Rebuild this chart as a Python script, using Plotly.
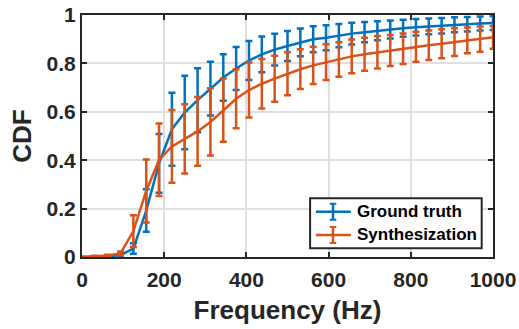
import plotly.graph_objects as go

# ---- data ----
freq = [k * 31.25 for k in range(33)]

gt_mean = [0.0, 0.0, 0.002, 0.008, 0.035, 0.192, 0.387, 0.528, 0.597, 0.648,
           0.696, 0.742, 0.779, 0.812, 0.837, 0.857, 0.872, 0.887, 0.9, 0.906,
           0.915, 0.923, 0.929, 0.935, 0.94, 0.945, 0.949, 0.953, 0.956, 0.96,
           0.962, 0.965, 0.967]
gt_err = [0.0, 0.0, 0.002, 0.006, 0.022, 0.088, 0.121, 0.151, 0.152, 0.132,
          0.111, 0.096, 0.089, 0.081, 0.074, 0.066, 0.062, 0.057, 0.054, 0.052,
          0.048, 0.045, 0.042, 0.039, 0.037, 0.035, 0.034, 0.033, 0.032, 0.031,
          0.030, 0.029, 0.029]

syn_mean = [0.0, 0.003, 0.006, 0.015, 0.107, 0.273, 0.402, 0.457, 0.488, 0.519,
            0.558, 0.607, 0.654, 0.69, 0.716, 0.737, 0.757, 0.776, 0.792, 0.805,
            0.816, 0.829, 0.838, 0.846, 0.853, 0.861, 0.869, 0.875, 0.881, 0.888,
            0.895, 0.9, 0.908]
syn_err = [0.0, 0.002, 0.003, 0.008, 0.066, 0.13, 0.15, 0.15, 0.143, 0.142,
           0.139, 0.131, 0.122, 0.114, 0.102, 0.095, 0.089, 0.082, 0.077, 0.074,
           0.071, 0.07, 0.068, 0.067, 0.064, 0.063, 0.062, 0.061, 0.06, 0.057,
           0.053, 0.052, 0.047]

series_names = ["Ground truth", "Synthesization"]
colors = ["#0072BD", "#D95319"]

x_ticks = [0, 200, 400, 600, 800, 1000]
y_ticks = [0, 0.2, 0.4, 0.6, 0.8, 1]
y_tick_labels = ["0", "0.2", "0.4", "0.6", "0.8", "1"]

FONT = "Liberation Sans, Arial, sans-serif"
AX = "#262626"

fig = go.Figure()
for name, ys, es, c in [(series_names[0], gt_mean, gt_err, colors[0]),
                        (series_names[1], syn_mean, syn_err, colors[1])]:
    fig.add_trace(go.Scatter(
        x=freq, y=ys, mode="lines", name=name, showlegend=False,
        line=dict(color=c, width=2.5),
        error_y=dict(type="data", array=es, visible=True, color=c,
                     thickness=2.5, width=3.5),
        cliponaxis=False,
    ))

axis_common = dict(
    showline=True, linecolor=AX, linewidth=2, mirror="ticks",
    ticks="inside", ticklen=5, tickwidth=2, tickcolor=AX,
    showgrid=True, gridcolor="#dfdfdf", gridwidth=1.5,
    zeroline=False, automargin=False,
    tickfont=dict(family=FONT, size=21, color=AX, weight="bold"),
)

fig.update_layout(
    width=519, height=329,
    margin=dict(l=82, r=26, t=15, b=72),
    paper_bgcolor="white", plot_bgcolor="white",
    xaxis=dict(range=[0, 1000], tickvals=x_ticks, ticklabelstandoff=3,
               **axis_common,
               title=dict(text="<b>Frequency (Hz)</b>", standoff=11,
                          font=dict(family=FONT, size=26, color=AX))),
    yaxis=dict(range=[0, 1], tickvals=y_ticks, ticktext=y_tick_labels,
               **axis_common,
               title=dict(text="<b>CDF</b>", standoff=7,
                          font=dict(family=FONT, size=26, color=AX))),
)

# ---- custom legend (MATLAB style) ----
lx0, lx1, ly0, ly1 = 0.555, 0.9725, 0.036, 0.2426
fig.add_shape(type="rect", xref="paper", yref="paper",
              x0=lx0, x1=lx1, y0=ly0, y1=ly1,
              line=dict(color=AX, width=2), fillcolor="white", layer="above")
rows_y = [0.187, 0.091]
for name, c, ry in zip(series_names, colors, rows_y):
    fig.add_shape(type="line", xref="paper", yref="paper",
                  x0=0.569, x1=0.654, y0=ry, y1=ry,
                  line=dict(color=c, width=2.5), layer="above")
    fig.add_shape(type="line", xref="paper", yref="paper",
                  x0=0.6107, x1=0.6107, y0=ry - 0.033, y1=ry + 0.033,
                  line=dict(color=c, width=2.5), layer="above")
    for yy in (ry - 0.033, ry + 0.033):
        fig.add_shape(type="line", xref="paper", yref="paper",
                      x0=0.6027, x1=0.6187, y0=yy, y1=yy,
                      line=dict(color=c, width=2), layer="above")
    fig.add_annotation(xref="paper", yref="paper", x=0.664, y=ry,
                       xanchor="left", yanchor="middle", showarrow=False,
                       text="<b>%s</b>" % name,
                       font=dict(family=FONT, size=17, color="black"))

fig.write_html("out.html",
               config={"displayModeBar": False},
               post_script="document.body.style.margin='0';"
                           "document.body.style.overflow='hidden';")
